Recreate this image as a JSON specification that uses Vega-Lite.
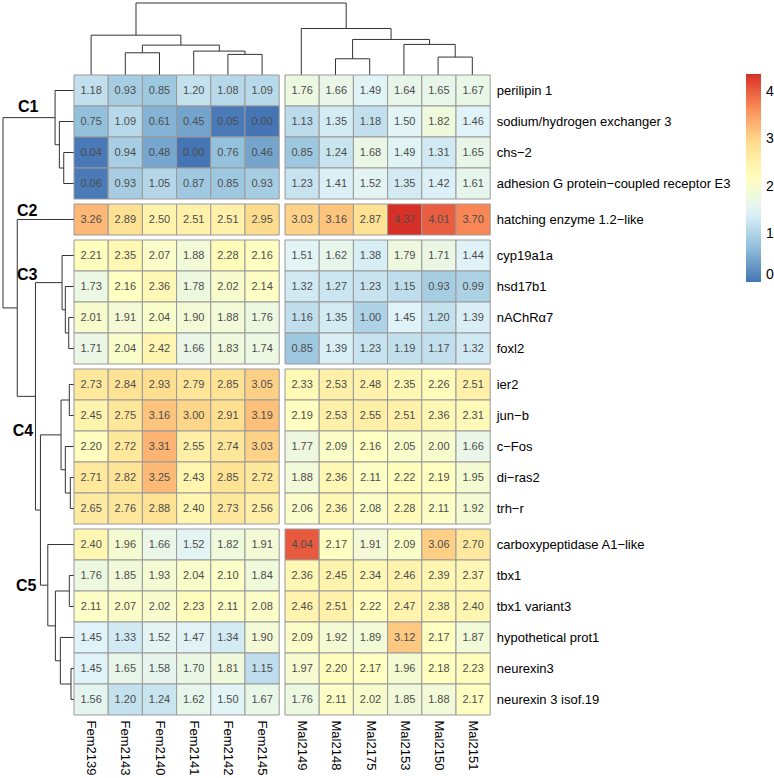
{
  "$schema": "https://vega.github.io/schema/vega-lite/v6.json",
  "background": "white",
  "padding": {"left": 2, "top": 2, "right": 0, "bottom": 0},
  "config": {
    "font": "Liberation Sans",
    "view": {"stroke": null},
    "axis": {"labelFont": "Liberation Sans"}
  },
  "datasets": {
    "expr": [
      {"gene": "perilipin 1", "cluster": "C1", "Fem2139": 1.18, "Fem2143": 0.93, "Fem2140": 0.85, "Fem2141": 1.20, "Fem2142": 1.08, "Fem2145": 1.09, "Mal2149": 1.76, "Mal2148": 1.66, "Mal2175": 1.49, "Mal2153": 1.64, "Mal2150": 1.65, "Mal2151": 1.67},
      {"gene": "sodium/hydrogen exchanger 3", "cluster": "C1", "Fem2139": 0.75, "Fem2143": 1.09, "Fem2140": 0.61, "Fem2141": 0.45, "Fem2142": 0.05, "Fem2145": 0.00, "Mal2149": 1.13, "Mal2148": 1.35, "Mal2175": 1.18, "Mal2153": 1.50, "Mal2150": 1.82, "Mal2151": 1.46},
      {"gene": "chs−2", "cluster": "C1", "Fem2139": 0.04, "Fem2143": 0.94, "Fem2140": 0.48, "Fem2141": 0.00, "Fem2142": 0.76, "Fem2145": 0.46, "Mal2149": 0.85, "Mal2148": 1.24, "Mal2175": 1.68, "Mal2153": 1.49, "Mal2150": 1.31, "Mal2151": 1.65},
      {"gene": "adhesion G protein−coupled receptor E3", "cluster": "C1", "Fem2139": 0.06, "Fem2143": 0.93, "Fem2140": 1.05, "Fem2141": 0.87, "Fem2142": 0.85, "Fem2145": 0.93, "Mal2149": 1.23, "Mal2148": 1.41, "Mal2175": 1.52, "Mal2153": 1.35, "Mal2150": 1.42, "Mal2151": 1.61},
      {"gene": "hatching enzyme 1.2−like", "cluster": "C2", "Fem2139": 3.26, "Fem2143": 2.89, "Fem2140": 2.50, "Fem2141": 2.51, "Fem2142": 2.51, "Fem2145": 2.95, "Mal2149": 3.03, "Mal2148": 3.16, "Mal2175": 2.87, "Mal2153": 4.37, "Mal2150": 4.01, "Mal2151": 3.70},
      {"gene": "cyp19a1a", "cluster": "C3", "Fem2139": 2.21, "Fem2143": 2.35, "Fem2140": 2.07, "Fem2141": 1.88, "Fem2142": 2.28, "Fem2145": 2.16, "Mal2149": 1.51, "Mal2148": 1.62, "Mal2175": 1.38, "Mal2153": 1.79, "Mal2150": 1.71, "Mal2151": 1.44},
      {"gene": "hsd17b1", "cluster": "C3", "Fem2139": 1.73, "Fem2143": 2.16, "Fem2140": 2.36, "Fem2141": 1.78, "Fem2142": 2.02, "Fem2145": 2.14, "Mal2149": 1.32, "Mal2148": 1.27, "Mal2175": 1.23, "Mal2153": 1.15, "Mal2150": 0.93, "Mal2151": 0.99},
      {"gene": "nAChRα7", "cluster": "C3", "Fem2139": 2.01, "Fem2143": 1.91, "Fem2140": 2.04, "Fem2141": 1.90, "Fem2142": 1.88, "Fem2145": 1.76, "Mal2149": 1.16, "Mal2148": 1.35, "Mal2175": 1.00, "Mal2153": 1.45, "Mal2150": 1.20, "Mal2151": 1.39},
      {"gene": "foxl2", "cluster": "C3", "Fem2139": 1.71, "Fem2143": 2.04, "Fem2140": 2.42, "Fem2141": 1.66, "Fem2142": 1.83, "Fem2145": 1.74, "Mal2149": 0.85, "Mal2148": 1.39, "Mal2175": 1.23, "Mal2153": 1.19, "Mal2150": 1.17, "Mal2151": 1.32},
      {"gene": "ier2", "cluster": "C4", "Fem2139": 2.73, "Fem2143": 2.84, "Fem2140": 2.93, "Fem2141": 2.79, "Fem2142": 2.85, "Fem2145": 3.05, "Mal2149": 2.33, "Mal2148": 2.53, "Mal2175": 2.48, "Mal2153": 2.35, "Mal2150": 2.26, "Mal2151": 2.51},
      {"gene": "jun−b", "cluster": "C4", "Fem2139": 2.45, "Fem2143": 2.75, "Fem2140": 3.16, "Fem2141": 3.00, "Fem2142": 2.91, "Fem2145": 3.19, "Mal2149": 2.19, "Mal2148": 2.53, "Mal2175": 2.55, "Mal2153": 2.51, "Mal2150": 2.36, "Mal2151": 2.31},
      {"gene": "c−Fos", "cluster": "C4", "Fem2139": 2.20, "Fem2143": 2.72, "Fem2140": 3.31, "Fem2141": 2.55, "Fem2142": 2.74, "Fem2145": 3.03, "Mal2149": 1.77, "Mal2148": 2.09, "Mal2175": 2.16, "Mal2153": 2.05, "Mal2150": 2.00, "Mal2151": 1.66},
      {"gene": "di−ras2", "cluster": "C4", "Fem2139": 2.71, "Fem2143": 2.82, "Fem2140": 3.25, "Fem2141": 2.43, "Fem2142": 2.85, "Fem2145": 2.72, "Mal2149": 1.88, "Mal2148": 2.36, "Mal2175": 2.11, "Mal2153": 2.22, "Mal2150": 2.19, "Mal2151": 1.95},
      {"gene": "trh−r", "cluster": "C4", "Fem2139": 2.65, "Fem2143": 2.76, "Fem2140": 2.88, "Fem2141": 2.40, "Fem2142": 2.73, "Fem2145": 2.56, "Mal2149": 2.06, "Mal2148": 2.36, "Mal2175": 2.08, "Mal2153": 2.28, "Mal2150": 2.11, "Mal2151": 1.92},
      {"gene": "carboxypeptidase A1−like", "cluster": "C5", "Fem2139": 2.40, "Fem2143": 1.96, "Fem2140": 1.66, "Fem2141": 1.52, "Fem2142": 1.82, "Fem2145": 1.91, "Mal2149": 4.04, "Mal2148": 2.17, "Mal2175": 1.91, "Mal2153": 2.09, "Mal2150": 3.06, "Mal2151": 2.70},
      {"gene": "tbx1", "cluster": "C5", "Fem2139": 1.76, "Fem2143": 1.85, "Fem2140": 1.93, "Fem2141": 2.04, "Fem2142": 2.10, "Fem2145": 1.84, "Mal2149": 2.36, "Mal2148": 2.45, "Mal2175": 2.34, "Mal2153": 2.46, "Mal2150": 2.39, "Mal2151": 2.37},
      {"gene": "tbx1 variant3", "cluster": "C5", "Fem2139": 2.11, "Fem2143": 2.07, "Fem2140": 2.02, "Fem2141": 2.23, "Fem2142": 2.11, "Fem2145": 2.08, "Mal2149": 2.46, "Mal2148": 2.51, "Mal2175": 2.22, "Mal2153": 2.47, "Mal2150": 2.38, "Mal2151": 2.40},
      {"gene": "hypothetical prot1", "cluster": "C5", "Fem2139": 1.45, "Fem2143": 1.33, "Fem2140": 1.52, "Fem2141": 1.47, "Fem2142": 1.34, "Fem2145": 1.90, "Mal2149": 2.09, "Mal2148": 1.92, "Mal2175": 1.89, "Mal2153": 3.12, "Mal2150": 2.17, "Mal2151": 1.87},
      {"gene": "neurexin3", "cluster": "C5", "Fem2139": 1.45, "Fem2143": 1.65, "Fem2140": 1.58, "Fem2141": 1.70, "Fem2142": 1.81, "Fem2145": 1.15, "Mal2149": 1.97, "Mal2148": 2.20, "Mal2175": 2.17, "Mal2153": 1.96, "Mal2150": 2.18, "Mal2151": 2.23},
      {"gene": "neurexin 3 isof.19", "cluster": "C5", "Fem2139": 1.56, "Fem2143": 1.20, "Fem2140": 1.24, "Fem2141": 1.62, "Fem2142": 1.50, "Fem2145": 1.67, "Mal2149": 1.76, "Mal2148": 2.11, "Mal2175": 2.02, "Mal2153": 1.85, "Mal2150": 1.88, "Mal2151": 2.17}
    ],
    "colTree": [
      {"p1": 1, "p2": 1, "h1": 0, "h2": 22.3}, {"p1": 2, "p2": 2, "h1": 0, "h2": 22.3}, {"p1": 1, "p2": 2, "h1": 22.3, "h2": 22.3},
      {"p1": 4, "p2": 4, "h1": 0, "h2": 20.7}, {"p1": 5, "p2": 5, "h1": 0, "h2": 20.7}, {"p1": 4, "p2": 5, "h1": 20.7, "h2": 20.7},
      {"p1": 3, "p2": 3, "h1": 0, "h2": 24}, {"p1": 4.5, "p2": 4.5, "h1": 20.7, "h2": 24}, {"p1": 3, "p2": 4.5, "h1": 24, "h2": 24},
      {"p1": 1.5, "p2": 1.5, "h1": 22.3, "h2": 30}, {"p1": 3.75, "p2": 3.75, "h1": 24, "h2": 30}, {"p1": 1.5, "p2": 3.75, "h1": 30, "h2": 30},
      {"p1": 0, "p2": 0, "h1": 0, "h2": 40}, {"p1": 2.625, "p2": 2.625, "h1": 30, "h2": 40}, {"p1": 0, "p2": 2.625, "h1": 40, "h2": 40},
      {"p1": 7.146, "p2": 7.146, "h1": 0, "h2": 16.3}, {"p1": 8.146, "p2": 8.146, "h1": 0, "h2": 16.3}, {"p1": 7.146, "p2": 8.146, "h1": 16.3, "h2": 16.3},
      {"p1": 10.146, "p2": 10.146, "h1": 0, "h2": 18}, {"p1": 11.146, "p2": 11.146, "h1": 0, "h2": 18}, {"p1": 10.146, "p2": 11.146, "h1": 18, "h2": 18},
      {"p1": 9.146, "p2": 9.146, "h1": 0, "h2": 30.7}, {"p1": 10.646, "p2": 10.646, "h1": 18, "h2": 30.7}, {"p1": 9.146, "p2": 10.646, "h1": 30.7, "h2": 30.7},
      {"p1": 7.646, "p2": 7.646, "h1": 16.3, "h2": 35.7}, {"p1": 9.896, "p2": 9.896, "h1": 30.7, "h2": 35.7}, {"p1": 7.646, "p2": 9.896, "h1": 35.7, "h2": 35.7},
      {"p1": 6.146, "p2": 6.146, "h1": 0, "h2": 46.7}, {"p1": 8.771, "p2": 8.771, "h1": 35.7, "h2": 46.7}, {"p1": 6.146, "p2": 8.771, "h1": 46.7, "h2": 46.7},
      {"p1": 1.3125, "p2": 1.3125, "h1": 40, "h2": 72.3}, {"p1": 7.4585, "p2": 7.4585, "h1": 46.7, "h2": 72.3}, {"p1": 1.3125, "p2": 7.4585, "h1": 72.3, "h2": 72.3}
    ],
    "rowTree": [
      {"p1": 2, "p2": 2, "h1": 0, "h2": 10.3}, {"p1": 3, "p2": 3, "h1": 0, "h2": 10.3}, {"p1": 2, "p2": 3, "h1": 10.3, "h2": 10.3},
      {"p1": 1, "p2": 1, "h1": 0, "h2": 14.7}, {"p1": 2.5, "p2": 2.5, "h1": 10.3, "h2": 14.7}, {"p1": 1, "p2": 2.5, "h1": 14.7, "h2": 14.7},
      {"p1": 0, "p2": 0, "h1": 0, "h2": 19}, {"p1": 1.75, "p2": 1.75, "h1": 14.7, "h2": 19}, {"p1": 0, "p2": 1.75, "h1": 19, "h2": 19},
      {"p1": 7.323, "p2": 7.323, "h1": 0, "h2": 5.3}, {"p1": 8.323, "p2": 8.323, "h1": 0, "h2": 5.3}, {"p1": 7.323, "p2": 8.323, "h1": 5.3, "h2": 5.3},
      {"p1": 6.323, "p2": 6.323, "h1": 0, "h2": 8.7}, {"p1": 7.823, "p2": 7.823, "h1": 5.3, "h2": 8.7}, {"p1": 6.323, "p2": 7.823, "h1": 8.7, "h2": 8.7},
      {"p1": 5.323, "p2": 5.323, "h1": 0, "h2": 12}, {"p1": 7.073, "p2": 7.073, "h1": 8.7, "h2": 12}, {"p1": 5.323, "p2": 7.073, "h1": 12, "h2": 12},
      {"p1": 9.484, "p2": 9.484, "h1": 0, "h2": 4.7}, {"p1": 10.484, "p2": 10.484, "h1": 0, "h2": 4.7}, {"p1": 9.484, "p2": 10.484, "h1": 4.7, "h2": 4.7},
      {"p1": 12.484, "p2": 12.484, "h1": 0, "h2": 3.7}, {"p1": 13.484, "p2": 13.484, "h1": 0, "h2": 3.7}, {"p1": 12.484, "p2": 13.484, "h1": 3.7, "h2": 3.7},
      {"p1": 11.484, "p2": 11.484, "h1": 0, "h2": 8.7}, {"p1": 12.984, "p2": 12.984, "h1": 3.7, "h2": 8.7}, {"p1": 11.484, "p2": 12.984, "h1": 8.7, "h2": 8.7},
      {"p1": 9.984, "p2": 9.984, "h1": 4.7, "h2": 13}, {"p1": 12.234, "p2": 12.234, "h1": 8.7, "h2": 13}, {"p1": 9.984, "p2": 12.234, "h1": 13, "h2": 13},
      {"p1": 15.645, "p2": 15.645, "h1": 0, "h2": 4.7}, {"p1": 16.645, "p2": 16.645, "h1": 0, "h2": 4.7}, {"p1": 15.645, "p2": 16.645, "h1": 4.7, "h2": 4.7},
      {"p1": 18.645, "p2": 18.645, "h1": 0, "h2": 3}, {"p1": 19.645, "p2": 19.645, "h1": 0, "h2": 3}, {"p1": 18.645, "p2": 19.645, "h1": 3, "h2": 3},
      {"p1": 17.645, "p2": 17.645, "h1": 0, "h2": 13.7}, {"p1": 19.145, "p2": 19.145, "h1": 3, "h2": 13.7}, {"p1": 17.645, "p2": 19.145, "h1": 13.7, "h2": 13.7},
      {"p1": 16.145, "p2": 16.145, "h1": 4.7, "h2": 18.7}, {"p1": 18.395, "p2": 18.395, "h1": 13.7, "h2": 18.7}, {"p1": 16.145, "p2": 18.395, "h1": 18.7, "h2": 18.7},
      {"p1": 14.645, "p2": 14.645, "h1": 0, "h2": 26.3}, {"p1": 17.27, "p2": 17.27, "h1": 18.7, "h2": 26.3}, {"p1": 14.645, "p2": 17.27, "h1": 26.3, "h2": 26.3},
      {"p1": 11.109, "p2": 11.109, "h1": 13, "h2": 33.7}, {"p1": 15.9575, "p2": 15.9575, "h1": 26.3, "h2": 33.7}, {"p1": 11.109, "p2": 15.9575, "h1": 33.7, "h2": 33.7},
      {"p1": 6.198, "p2": 6.198, "h1": 12, "h2": 38.7}, {"p1": 13.533, "p2": 13.533, "h1": 33.7, "h2": 38.7}, {"p1": 6.198, "p2": 13.533, "h1": 38.7, "h2": 38.7},
      {"p1": 4.161, "p2": 4.161, "h1": 0, "h2": 57}, {"p1": 9.866, "p2": 9.866, "h1": 38.7, "h2": 57}, {"p1": 4.161, "p2": 9.866, "h1": 57, "h2": 57},
      {"p1": 0.875, "p2": 0.875, "h1": 19, "h2": 71.3}, {"p1": 7.0135, "p2": 7.0135, "h1": 57, "h2": 71.3}, {"p1": 0.875, "p2": 7.0135, "h1": 71.3, "h2": 71.3}
    ],
    "clusterLabels": [
      {"label": "C1", "h": 46, "p": 0.53},
      {"label": "C2", "h": 47, "p": 3.9},
      {"label": "C3", "h": 47, "p": 5.94},
      {"label": "C4", "h": 51.3, "p": 10.98},
      {"label": "C5", "h": 48, "p": 15.98}
    ]
  },
  "data": {"name": "expr"},
  "columns": 3,
  "align": "each",
  "bounds": "flush",
  "spacing": {"row": 5, "column": 5},
  "resolve": {"scale": {"color": "shared"}, "legend": {"color": "shared"}},
  "concat": [
    {"data": {"values": []}, "width": 1, "height": 1, "mark": {"type": "point"}},
    {
      "data": {"name": "colTree"},
      "width": 205.2,
      "height": 67,
      "mark": {"type": "rule", "color": "#333333", "strokeWidth": 1},
      "encoding": {
        "x": {"field": "p1", "type": "quantitative", "scale": {"domain": [-0.5, 11.646], "range": [0, 415.4], "nice": false, "zero": false}, "axis": null},
        "x2": {"field": "p2"},
        "y": {"field": "h1", "type": "quantitative", "scale": {"domain": [0, 72.3], "range": [72, 0], "nice": false, "zero": false}, "axis": null},
        "y2": {"field": "h2"}
      }
    },
    {"data": {"values": []}, "width": 1, "height": 1, "mark": {"type": "point"}},
    {
      "width": 66,
      "height": 124,
      "layer": [
        {
          "data": {"name": "rowTree"},
          "mark": {"type": "rule", "color": "#333333", "strokeWidth": 1},
          "encoding": {
            "x": {"field": "h1", "type": "quantitative", "scale": {"domain": [71.3, 0], "range": [0, 71], "nice": false, "zero": false}, "axis": null},
            "x2": {"field": "h2"},
            "y": {"field": "p1", "type": "quantitative", "scale": {"domain": [-0.5, 20.145], "range": [0, 640], "nice": false, "zero": false}, "axis": null},
            "y2": {"field": "p2"}
          }
        },
        {
          "data": {"name": "clusterLabels"},
          "mark": {"type": "text", "fontSize": 16, "fontWeight": "bold", "color": "#000000"},
          "encoding": {
            "x": {"field": "h", "type": "quantitative"},
            "y": {"field": "p", "type": "quantitative"},
            "text": {"field": "label"}
          }
        }
      ]
    },
    {
      "width": 205.2, "height": 124,
      "transform": [{"filter": {"field": "cluster", "equal": "C1"}}, {"fold": ["Fem2139", "Fem2143", "Fem2140", "Fem2141", "Fem2142", "Fem2145"], "as": ["sample", "value"]}],
      "encoding": {
        "x": {"field": "sample", "type": "nominal", "sort": null, "axis": null},
        "y": {"field": "gene", "type": "nominal", "sort": null, "axis": null}
      },
      "layer": [
        {"mark": {"type": "rect", "stroke": "#999999", "strokeWidth": 1}, "encoding": {"color": {"field": "value", "type": "quantitative", "scale": {"type": "linear", "domain": [0, 0.7283, 1.4567, 2.185, 2.9133, 3.6417, 4.37], "range": ["#4575B4", "#91BFDB", "#E0F3F8", "#FFFFBF", "#FEE090", "#FC8D59", "#D73027"], "interpolate": "rgb"}, "legend": {"orient": "none", "legendX": 743, "legendY": 71, "title": null, "direction": "vertical", "gradientLength": 208, "gradientThickness": 15, "gradientStrokeWidth": 0, "values": [0, 1, 2, 3, 4], "labelFontSize": 14, "labelOffset": 5, "labelColor": "#000000"}}}},
        {"mark": {"type": "text", "fontSize": 11, "color": "#4d4d4d"}, "encoding": {"text": {"field": "value", "type": "quantitative", "format": ".2f"}}}
      ]
    },
    {
      "width": 205.2, "height": 124,
      "transform": [{"filter": {"field": "cluster", "equal": "C1"}}, {"fold": ["Mal2149", "Mal2148", "Mal2175", "Mal2153", "Mal2150", "Mal2151"], "as": ["sample", "value"]}],
      "encoding": {
        "x": {"field": "sample", "type": "nominal", "sort": null, "axis": null},
        "y": {"field": "gene", "type": "nominal", "sort": null, "axis": {"orient": "right", "ticks": false, "domain": false, "title": null, "labelPadding": 6, "labelFontSize": 13, "labelColor": "#000000", "labelLimit": 400}}
      },
      "layer": [
        {"mark": {"type": "rect", "stroke": "#999999", "strokeWidth": 1}, "encoding": {"color": {"field": "value", "type": "quantitative", "scale": {"type": "linear", "domain": [0, 0.7283, 1.4567, 2.185, 2.9133, 3.6417, 4.37], "range": ["#4575B4", "#91BFDB", "#E0F3F8", "#FFFFBF", "#FEE090", "#FC8D59", "#D73027"], "interpolate": "rgb"}, "legend": {"orient": "none", "legendX": 743, "legendY": 71, "title": null, "direction": "vertical", "gradientLength": 208, "gradientThickness": 15, "gradientStrokeWidth": 0, "values": [0, 1, 2, 3, 4], "labelFontSize": 14, "labelOffset": 5, "labelColor": "#000000"}}}},
        {"mark": {"type": "text", "fontSize": 11, "color": "#4d4d4d"}, "encoding": {"text": {"field": "value", "type": "quantitative", "format": ".2f"}}}
      ]
    },
    {"data": {"values": []}, "width": 1, "height": 1, "mark": {"type": "point"}},
    {
      "width": 205.2, "height": 31,
      "transform": [{"filter": {"field": "cluster", "equal": "C2"}}, {"fold": ["Fem2139", "Fem2143", "Fem2140", "Fem2141", "Fem2142", "Fem2145"], "as": ["sample", "value"]}],
      "encoding": {
        "x": {"field": "sample", "type": "nominal", "sort": null, "axis": null},
        "y": {"field": "gene", "type": "nominal", "sort": null, "axis": null}
      },
      "layer": [
        {"mark": {"type": "rect", "stroke": "#999999", "strokeWidth": 1}, "encoding": {"color": {"field": "value", "type": "quantitative", "scale": {"type": "linear", "domain": [0, 0.7283, 1.4567, 2.185, 2.9133, 3.6417, 4.37], "range": ["#4575B4", "#91BFDB", "#E0F3F8", "#FFFFBF", "#FEE090", "#FC8D59", "#D73027"], "interpolate": "rgb"}, "legend": {"orient": "none", "legendX": 743, "legendY": 71, "title": null, "direction": "vertical", "gradientLength": 208, "gradientThickness": 15, "gradientStrokeWidth": 0, "values": [0, 1, 2, 3, 4], "labelFontSize": 14, "labelOffset": 5, "labelColor": "#000000"}}}},
        {"mark": {"type": "text", "fontSize": 11, "color": "#4d4d4d"}, "encoding": {"text": {"field": "value", "type": "quantitative", "format": ".2f"}}}
      ]
    },
    {
      "width": 205.2, "height": 31,
      "transform": [{"filter": {"field": "cluster", "equal": "C2"}}, {"fold": ["Mal2149", "Mal2148", "Mal2175", "Mal2153", "Mal2150", "Mal2151"], "as": ["sample", "value"]}],
      "encoding": {
        "x": {"field": "sample", "type": "nominal", "sort": null, "axis": null},
        "y": {"field": "gene", "type": "nominal", "sort": null, "axis": {"orient": "right", "ticks": false, "domain": false, "title": null, "labelPadding": 6, "labelFontSize": 13, "labelColor": "#000000", "labelLimit": 400}}
      },
      "layer": [
        {"mark": {"type": "rect", "stroke": "#999999", "strokeWidth": 1}, "encoding": {"color": {"field": "value", "type": "quantitative", "scale": {"type": "linear", "domain": [0, 0.7283, 1.4567, 2.185, 2.9133, 3.6417, 4.37], "range": ["#4575B4", "#91BFDB", "#E0F3F8", "#FFFFBF", "#FEE090", "#FC8D59", "#D73027"], "interpolate": "rgb"}, "legend": {"orient": "none", "legendX": 743, "legendY": 71, "title": null, "direction": "vertical", "gradientLength": 208, "gradientThickness": 15, "gradientStrokeWidth": 0, "values": [0, 1, 2, 3, 4], "labelFontSize": 14, "labelOffset": 5, "labelColor": "#000000"}}}},
        {"mark": {"type": "text", "fontSize": 11, "color": "#4d4d4d"}, "encoding": {"text": {"field": "value", "type": "quantitative", "format": ".2f"}}}
      ]
    },
    {"data": {"values": []}, "width": 1, "height": 1, "mark": {"type": "point"}},
    {
      "width": 205.2, "height": 124,
      "transform": [{"filter": {"field": "cluster", "equal": "C3"}}, {"fold": ["Fem2139", "Fem2143", "Fem2140", "Fem2141", "Fem2142", "Fem2145"], "as": ["sample", "value"]}],
      "encoding": {
        "x": {"field": "sample", "type": "nominal", "sort": null, "axis": null},
        "y": {"field": "gene", "type": "nominal", "sort": null, "axis": null}
      },
      "layer": [
        {"mark": {"type": "rect", "stroke": "#999999", "strokeWidth": 1}, "encoding": {"color": {"field": "value", "type": "quantitative", "scale": {"type": "linear", "domain": [0, 0.7283, 1.4567, 2.185, 2.9133, 3.6417, 4.37], "range": ["#4575B4", "#91BFDB", "#E0F3F8", "#FFFFBF", "#FEE090", "#FC8D59", "#D73027"], "interpolate": "rgb"}, "legend": {"orient": "none", "legendX": 743, "legendY": 71, "title": null, "direction": "vertical", "gradientLength": 208, "gradientThickness": 15, "gradientStrokeWidth": 0, "values": [0, 1, 2, 3, 4], "labelFontSize": 14, "labelOffset": 5, "labelColor": "#000000"}}}},
        {"mark": {"type": "text", "fontSize": 11, "color": "#4d4d4d"}, "encoding": {"text": {"field": "value", "type": "quantitative", "format": ".2f"}}}
      ]
    },
    {
      "width": 205.2, "height": 124,
      "transform": [{"filter": {"field": "cluster", "equal": "C3"}}, {"fold": ["Mal2149", "Mal2148", "Mal2175", "Mal2153", "Mal2150", "Mal2151"], "as": ["sample", "value"]}],
      "encoding": {
        "x": {"field": "sample", "type": "nominal", "sort": null, "axis": null},
        "y": {"field": "gene", "type": "nominal", "sort": null, "axis": {"orient": "right", "ticks": false, "domain": false, "title": null, "labelPadding": 6, "labelFontSize": 13, "labelColor": "#000000", "labelLimit": 400}}
      },
      "layer": [
        {"mark": {"type": "rect", "stroke": "#999999", "strokeWidth": 1}, "encoding": {"color": {"field": "value", "type": "quantitative", "scale": {"type": "linear", "domain": [0, 0.7283, 1.4567, 2.185, 2.9133, 3.6417, 4.37], "range": ["#4575B4", "#91BFDB", "#E0F3F8", "#FFFFBF", "#FEE090", "#FC8D59", "#D73027"], "interpolate": "rgb"}, "legend": {"orient": "none", "legendX": 743, "legendY": 71, "title": null, "direction": "vertical", "gradientLength": 208, "gradientThickness": 15, "gradientStrokeWidth": 0, "values": [0, 1, 2, 3, 4], "labelFontSize": 14, "labelOffset": 5, "labelColor": "#000000"}}}},
        {"mark": {"type": "text", "fontSize": 11, "color": "#4d4d4d"}, "encoding": {"text": {"field": "value", "type": "quantitative", "format": ".2f"}}}
      ]
    },
    {"data": {"values": []}, "width": 1, "height": 1, "mark": {"type": "point"}},
    {
      "width": 205.2, "height": 155,
      "transform": [{"filter": {"field": "cluster", "equal": "C4"}}, {"fold": ["Fem2139", "Fem2143", "Fem2140", "Fem2141", "Fem2142", "Fem2145"], "as": ["sample", "value"]}],
      "encoding": {
        "x": {"field": "sample", "type": "nominal", "sort": null, "axis": null},
        "y": {"field": "gene", "type": "nominal", "sort": null, "axis": null}
      },
      "layer": [
        {"mark": {"type": "rect", "stroke": "#999999", "strokeWidth": 1}, "encoding": {"color": {"field": "value", "type": "quantitative", "scale": {"type": "linear", "domain": [0, 0.7283, 1.4567, 2.185, 2.9133, 3.6417, 4.37], "range": ["#4575B4", "#91BFDB", "#E0F3F8", "#FFFFBF", "#FEE090", "#FC8D59", "#D73027"], "interpolate": "rgb"}, "legend": {"orient": "none", "legendX": 743, "legendY": 71, "title": null, "direction": "vertical", "gradientLength": 208, "gradientThickness": 15, "gradientStrokeWidth": 0, "values": [0, 1, 2, 3, 4], "labelFontSize": 14, "labelOffset": 5, "labelColor": "#000000"}}}},
        {"mark": {"type": "text", "fontSize": 11, "color": "#4d4d4d"}, "encoding": {"text": {"field": "value", "type": "quantitative", "format": ".2f"}}}
      ]
    },
    {
      "width": 205.2, "height": 155,
      "transform": [{"filter": {"field": "cluster", "equal": "C4"}}, {"fold": ["Mal2149", "Mal2148", "Mal2175", "Mal2153", "Mal2150", "Mal2151"], "as": ["sample", "value"]}],
      "encoding": {
        "x": {"field": "sample", "type": "nominal", "sort": null, "axis": null},
        "y": {"field": "gene", "type": "nominal", "sort": null, "axis": {"orient": "right", "ticks": false, "domain": false, "title": null, "labelPadding": 6, "labelFontSize": 13, "labelColor": "#000000", "labelLimit": 400}}
      },
      "layer": [
        {"mark": {"type": "rect", "stroke": "#999999", "strokeWidth": 1}, "encoding": {"color": {"field": "value", "type": "quantitative", "scale": {"type": "linear", "domain": [0, 0.7283, 1.4567, 2.185, 2.9133, 3.6417, 4.37], "range": ["#4575B4", "#91BFDB", "#E0F3F8", "#FFFFBF", "#FEE090", "#FC8D59", "#D73027"], "interpolate": "rgb"}, "legend": {"orient": "none", "legendX": 743, "legendY": 71, "title": null, "direction": "vertical", "gradientLength": 208, "gradientThickness": 15, "gradientStrokeWidth": 0, "values": [0, 1, 2, 3, 4], "labelFontSize": 14, "labelOffset": 5, "labelColor": "#000000"}}}},
        {"mark": {"type": "text", "fontSize": 11, "color": "#4d4d4d"}, "encoding": {"text": {"field": "value", "type": "quantitative", "format": ".2f"}}}
      ]
    },
    {"data": {"values": []}, "width": 1, "height": 1, "mark": {"type": "point"}},
    {
      "width": 205.2, "height": 186,
      "transform": [{"filter": {"field": "cluster", "equal": "C5"}}, {"fold": ["Fem2139", "Fem2143", "Fem2140", "Fem2141", "Fem2142", "Fem2145"], "as": ["sample", "value"]}],
      "encoding": {
        "x": {"field": "sample", "type": "nominal", "sort": null, "axis": {"orient": "bottom", "labelAngle": 90, "ticks": false, "domain": false, "title": null, "labelPadding": 5, "labelFontSize": 13, "labelColor": "#000000"}},
        "y": {"field": "gene", "type": "nominal", "sort": null, "axis": null}
      },
      "layer": [
        {"mark": {"type": "rect", "stroke": "#999999", "strokeWidth": 1}, "encoding": {"color": {"field": "value", "type": "quantitative", "scale": {"type": "linear", "domain": [0, 0.7283, 1.4567, 2.185, 2.9133, 3.6417, 4.37], "range": ["#4575B4", "#91BFDB", "#E0F3F8", "#FFFFBF", "#FEE090", "#FC8D59", "#D73027"], "interpolate": "rgb"}, "legend": {"orient": "none", "legendX": 743, "legendY": 71, "title": null, "direction": "vertical", "gradientLength": 208, "gradientThickness": 15, "gradientStrokeWidth": 0, "values": [0, 1, 2, 3, 4], "labelFontSize": 14, "labelOffset": 5, "labelColor": "#000000"}}}},
        {"mark": {"type": "text", "fontSize": 11, "color": "#4d4d4d"}, "encoding": {"text": {"field": "value", "type": "quantitative", "format": ".2f"}}}
      ]
    },
    {
      "width": 205.2, "height": 186,
      "transform": [{"filter": {"field": "cluster", "equal": "C5"}}, {"fold": ["Mal2149", "Mal2148", "Mal2175", "Mal2153", "Mal2150", "Mal2151"], "as": ["sample", "value"]}],
      "encoding": {
        "x": {"field": "sample", "type": "nominal", "sort": null, "axis": {"orient": "bottom", "labelAngle": 90, "ticks": false, "domain": false, "title": null, "labelPadding": 5, "labelFontSize": 13, "labelColor": "#000000"}},
        "y": {"field": "gene", "type": "nominal", "sort": null, "axis": {"orient": "right", "ticks": false, "domain": false, "title": null, "labelPadding": 6, "labelFontSize": 13, "labelColor": "#000000", "labelLimit": 400}}
      },
      "layer": [
        {"mark": {"type": "rect", "stroke": "#999999", "strokeWidth": 1}, "encoding": {"color": {"field": "value", "type": "quantitative", "scale": {"type": "linear", "domain": [0, 0.7283, 1.4567, 2.185, 2.9133, 3.6417, 4.37], "range": ["#4575B4", "#91BFDB", "#E0F3F8", "#FFFFBF", "#FEE090", "#FC8D59", "#D73027"], "interpolate": "rgb"}, "legend": {"orient": "none", "legendX": 743, "legendY": 71, "title": null, "direction": "vertical", "gradientLength": 208, "gradientThickness": 15, "gradientStrokeWidth": 0, "values": [0, 1, 2, 3, 4], "labelFontSize": 14, "labelOffset": 5, "labelColor": "#000000"}}}},
        {"mark": {"type": "text", "fontSize": 11, "color": "#4d4d4d"}, "encoding": {"text": {"field": "value", "type": "quantitative", "format": ".2f"}}}
      ]
    }
  ]
}
